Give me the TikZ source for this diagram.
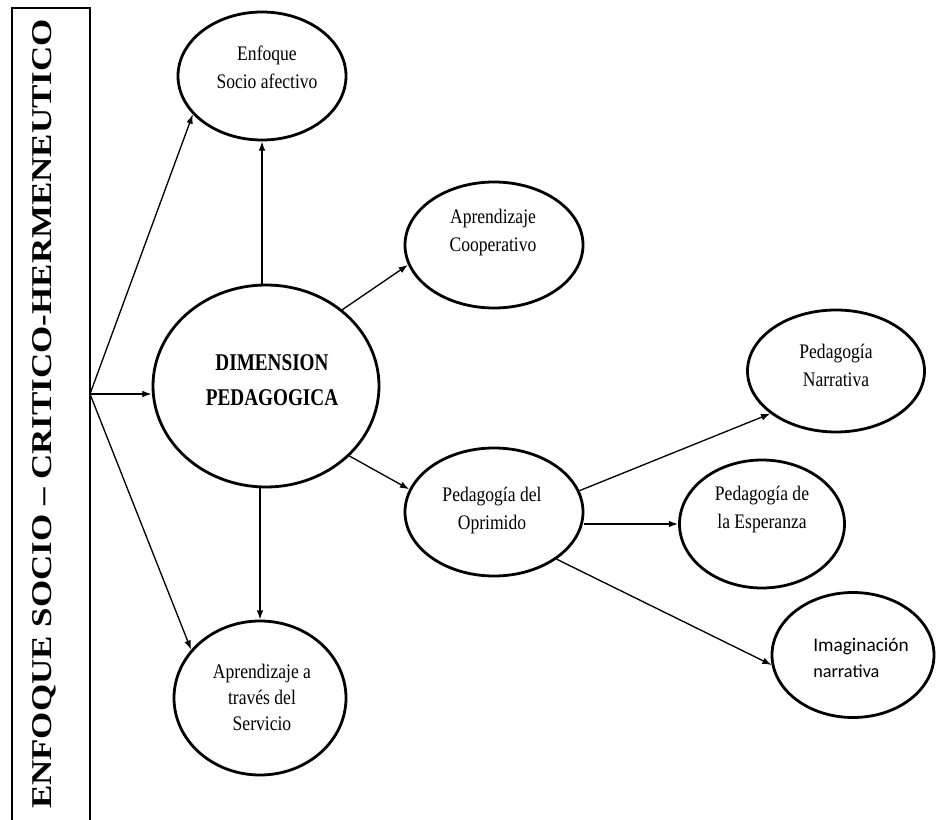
\documentclass[tikz,border=0pt]{standalone}
\usepackage{fontspec}
\setmainfont{Liberation Serif}
\newfontfamily\cond[FakeStretch=0.85]{Liberation Serif}
\newfontfamily\dimfont[FakeStretch=0.8]{Liberation Serif Bold}
\newfontfamily\titlefont[FakeStretch=1.22]{Liberation Serif Bold}
\newfontfamily\sansfam{Carlito}
\usetikzlibrary{shapes.geometric,arrows.meta}
\begin{document}
\begin{tikzpicture}[x=0.75pt,y=-0.75pt]
\tikzset{
  ell/.style={draw, line width=2.1pt, ellipse, inner sep=0pt},
  arr/.style={line width=1pt, -{Latex[length=7pt,width=5pt]}},
  lbl/.style={align=center, inner sep=0pt, font=\cond\fontsize{15.5}{21}\selectfont},
}
\useasboundingbox (0,0) rectangle (936,820);
% left box
\node[draw, line width=2pt, minimum width=58.5pt, minimum height=615pt, inner sep=0pt] (box) at (51,418) {};
\node[rotate=90, inner sep=0pt, font=\titlefont\fontsize{21.5}{26}\selectfont] (title) at (44,414) {ENFOQUE SOCIO – CRITICO-HERMENEUTICO};
\coordinate (orig) at (90,394);
% ellipses
\node[ell, minimum width=126pt, minimum height=96pt] (enf) at (262,76) {};
\node[ell, minimum width=169.5pt, minimum height=151.5pt] (dim) at (266,386) {};
\node[ell, minimum width=133.5pt, minimum height=94.5pt] (coop) at (494,245) {};
\node[ell, minimum width=133.5pt, minimum height=96pt] (opr) at (494,512) {};
\node[ell, minimum width=132.75pt, minimum height=91.5pt] (nar) at (836,371) {};
\node[ell, minimum width=123.75pt, minimum height=96pt] (esp) at (762,524) {};
\node[ell, minimum width=121.5pt, minimum height=93.75pt] (ima) at (853,655) {};
\node[ell, minimum width=129pt, minimum height=115.5pt] (serv) at (260,698) {};
% texts
\node[lbl] (enf-t) at (267,67) {Enfoque\\Socio afectivo};
\node[lbl, font=\dimfont\fontsize{18}{26}\selectfont] (dim-t) at (272,380) {DIMENSION\\PEDAGOGICA};
\node[lbl] (coop-t) at (493,233) {Aprendizaje\\Cooperativo};
\node[lbl] (opr-t) at (492,511) {Pedagogía del\\Oprimido};
\node[lbl] (nar-t) at (836,365) {Pedagogía\\Narrativa};
\node[lbl] (esp-t) at (762,510) {Pedagogía de\\la Esperanza};
\node[lbl, anchor=west, align=left, font=\sansfam\fontsize{13.7}{20}\selectfont] (ima-t) at (813,658) {{\fontsize{14.5}{20}\selectfont Imaginación}\\narrativa};
\node[lbl, font=\cond\fontsize{15.5}{19.5}\selectfont] (serv-t) at (262,697) {Aprendizaje a\\través del\\Servicio};
% connectors
\draw[arr] (orig) -- (enf.209);
\draw[arr] (orig) -- (orig -| dim.west);
\draw[arr] (orig) -- (serv.145);
\draw[arr] (dim.north -| enf.south) -- (enf.south);
\draw[arr] (dim.south -| serv.north) -- (serv.north);
\draw[arr] (dim.45) -- (coop.193);
\draw[arr] (dim.-40) -- (opr.165);
\draw[arr] (opr.14) -- (nar.213);
\draw[arr] (esp.west -| opr.east) -- (esp.west);
\draw[arr] (opr.-37) -- (ima.187);
\end{tikzpicture}
\end{document}
